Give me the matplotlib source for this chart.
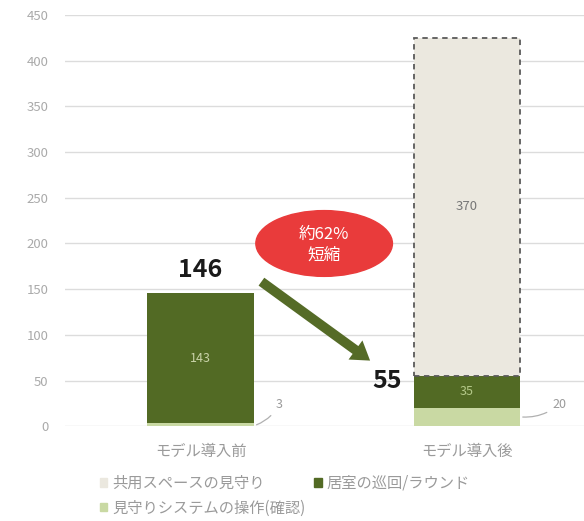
import matplotlib.pyplot as plt
from matplotlib.patches import Ellipse, Patch

plt.rcParams['font.family'] = ['Noto Sans CJK JP', 'DejaVu Sans']

# データ
categories = ['モデル導入前', 'モデル導入後']
system_check = [3, 20]        # 見守りシステムの操作(確認)
room_round = [143, 35]        # 居室の巡回/ラウンド
common_space = [0, 370]       # 共用スペースの見守り
totals = [146, 55]
series_names = ['共用スペースの見守り', '居室の巡回/ラウンド', '見守りシステムの操作(確認)']
reduction_text = '約62%\n短縮'

c_light = '#c9d9a3'
c_dark = '#526a24'
c_beige = '#ebe8df'
c_grid = '#dcdcdc'
c_text = '#9a9a9a'

fig = plt.figure(figsize=(5.84, 5.21), dpi=100)
ax = fig.add_axes([0.111, 0.182, 0.889, 0.789])

x = [0, 1]
w = 0.4
ax.bar(x, system_check, w, color=c_light, zorder=2)
ax.bar(x, room_round, w, bottom=system_check, color=c_dark, zorder=2)
bottom2 = [a + b for a, b in zip(system_check, room_round)]
ax.bar(x[1], common_space[1], w, bottom=bottom2[1], color=c_beige,
       edgecolor='#5a5a5a', linestyle=(0, (3, 2.5)), linewidth=1.3, zorder=2)

# 値ラベル
ax.text(x[0], system_check[0] + room_round[0] / 2, str(room_round[0]),
        ha='center', va='center', fontsize=9, color='#c9d3a8', zorder=3)
ax.text(x[1], system_check[1] + room_round[1] / 2, str(room_round[1]),
        ha='center', va='center', fontsize=9, color='#b5c98a', zorder=3)
ax.text(x[1], bottom2[1] + common_space[1] / 2, str(common_space[1]),
        ha='center', va='center', fontsize=9.5, color='#777777', zorder=3)

# 小さい値の引き出し線
for i, dx in enumerate([0.08, 0.12]):
    ax.annotate(str(system_check[i]), xy=(x[i] + w / 2 + 0.01, system_check[i] / 2),
                xytext=(x[i] + w / 2 + dx, 24),
                fontsize=9, color=c_text, va='center', ha='left',
                arrowprops=dict(arrowstyle='-', color='#b0b0b0', lw=0.9,
                                connectionstyle='arc3,rad=-0.2', shrinkA=2, shrinkB=0))

# 合計値
ax.text(x[0], 171, str(totals[0]), ha='center', va='center',
        fontsize=18, fontweight='bold', color='#1a1a1a')
ax.text(0.755, 50, str(totals[1]), ha='right', va='center',
        fontsize=18, fontweight='bold', color='#1a1a1a')

# 矢印
ax.annotate('', xy=(0.645, 70), xytext=(0.22, 160),
            arrowprops=dict(arrowstyle='simple,head_width=1.7,head_length=1.3,tail_width=0.7',
                            color='#556b27', lw=0), zorder=4)

# 赤い楕円
ax.add_patch(Ellipse((0.464, 200), 0.513, 72, color='#e93b3b', zorder=5))
ax.text(0.464, 199, reduction_text, ha='center', va='center', fontsize=12,
        color='white', linespacing=1.3, zorder=6)

ax.set_xlim(-0.51, 1.44)
ax.set_ylim(0, 450)
ax.set_yticks(range(0, 451, 50))
ax.set_xticks(x)
ax.set_xticklabels(categories, fontsize=11, color=c_text)
ax.tick_params(axis='y', labelsize=9.5, labelcolor='#aaaaaa', length=0, pad=12)
ax.tick_params(axis='x', length=0, pad=12)
ax.yaxis.grid(True, color=c_grid, linewidth=1)
ax.set_axisbelow(True)
for s in ax.spines.values():
    s.set_visible(False)

handles = [Patch(color=c_beige), Patch(color=c_light), Patch(color=c_dark)]
labels = [series_names[0], series_names[2], series_names[1]]
fig.legend(handles, labels, ncol=2, loc='upper left', bbox_to_anchor=(0.15, 0.112),
           frameon=False, fontsize=11, labelcolor=c_text, handlelength=0.5,
           handleheight=0.5, handletextpad=0.3, columnspacing=0.6, labelspacing=0.5,
           borderpad=0.3)

fig.savefig('out.png', dpi=100)
